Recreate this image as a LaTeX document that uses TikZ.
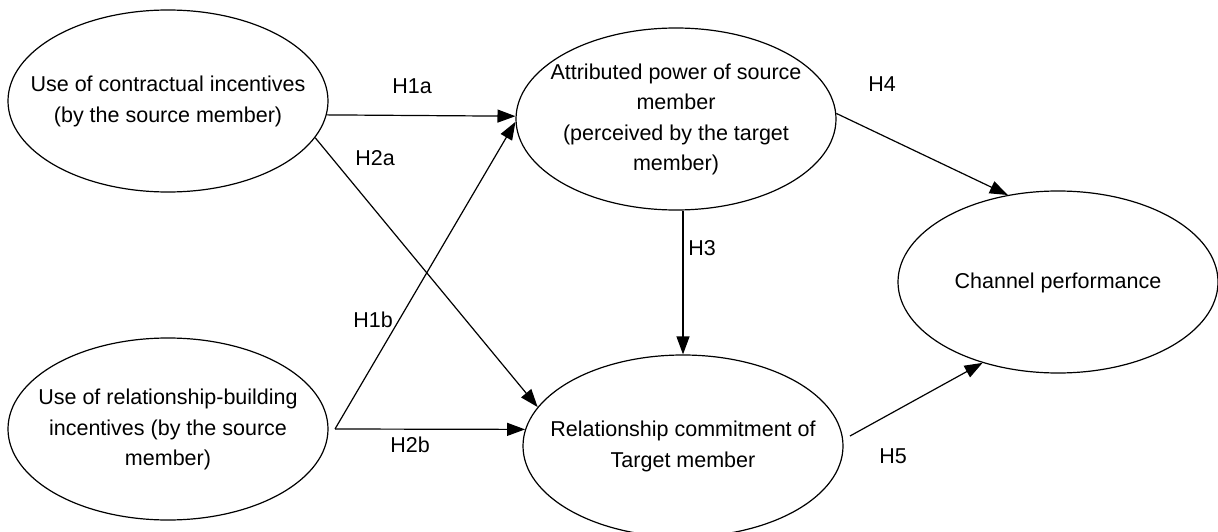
\documentclass[tikz,border=0pt]{standalone}
\usepackage{fontspec}
\setmainfont{Liberation Sans}
\usetikzlibrary{shapes.geometric,arrows.meta}
\newcommand{\ctxt}[1]{\makebox[0pt]{\begin{tabular}{@{}c@{}}#1\end{tabular}}}
\begin{document}
\begin{tikzpicture}[x=1pt,y=-1pt,
  construct/.style={draw,line width=1.2pt,ellipse,minimum width=320pt,minimum height=182pt,inner sep=0pt,font=\fontsize{21.5}{30.5}\selectfont},
  hyp/.style={line width=1.2pt,-{Triangle[length=18pt,width=13pt]}},
  lbl/.style={font=\fontsize{21.5}{24}\selectfont,inner sep=0pt}]
\useasboundingbox (0,0) rectangle (1218,532);
\node[construct] (A) at (168,101) {\ctxt{Use of contractual incentives\\(by the source member)}};
\node[construct] (B) at (676,119) {\ctxt{Attributed power of source\\member\\(perceived by the target\\member)}};
\node[construct] (C) at (1058,282) {\ctxt{Channel performance}};
\node[construct] (D) at (168,429) {\ctxt{Use of relationship-building\\incentives (by the source\\member)}};
\node[construct] (E) at (683,446) {\ctxt{Relationship commitment of\\Target member}};
\coordinate (d1) at (335,429);
\coordinate (e1) at (850,436);
\draw[hyp] (A.-5) -- (B.179);
\draw[hyp] (A.-14.4) -- (E.165);
\draw[hyp] (d1) -- (B.181);
\draw[hyp] (d1) -- (E.174);
\draw[hyp] (E.north |- B.south) -- (E.north);
\draw[hyp] (B.2) -- (C.120);
\draw[hyp] (e1) -- (C.-133);
\node[lbl] (l1a) at (412,86) {H1a};
\node[lbl] (l2a) at (375,158) {H2a};
\node[lbl] (l1b) at (373,320) {H1b};
\node[lbl] (l2b) at (410,445) {H2b};
\node[lbl] (l3) at (702,248) {H3};
\node[lbl] (l4) at (882,84) {H4};
\node[lbl] (l5) at (893,456) {H5};
\end{tikzpicture}
\end{document}
